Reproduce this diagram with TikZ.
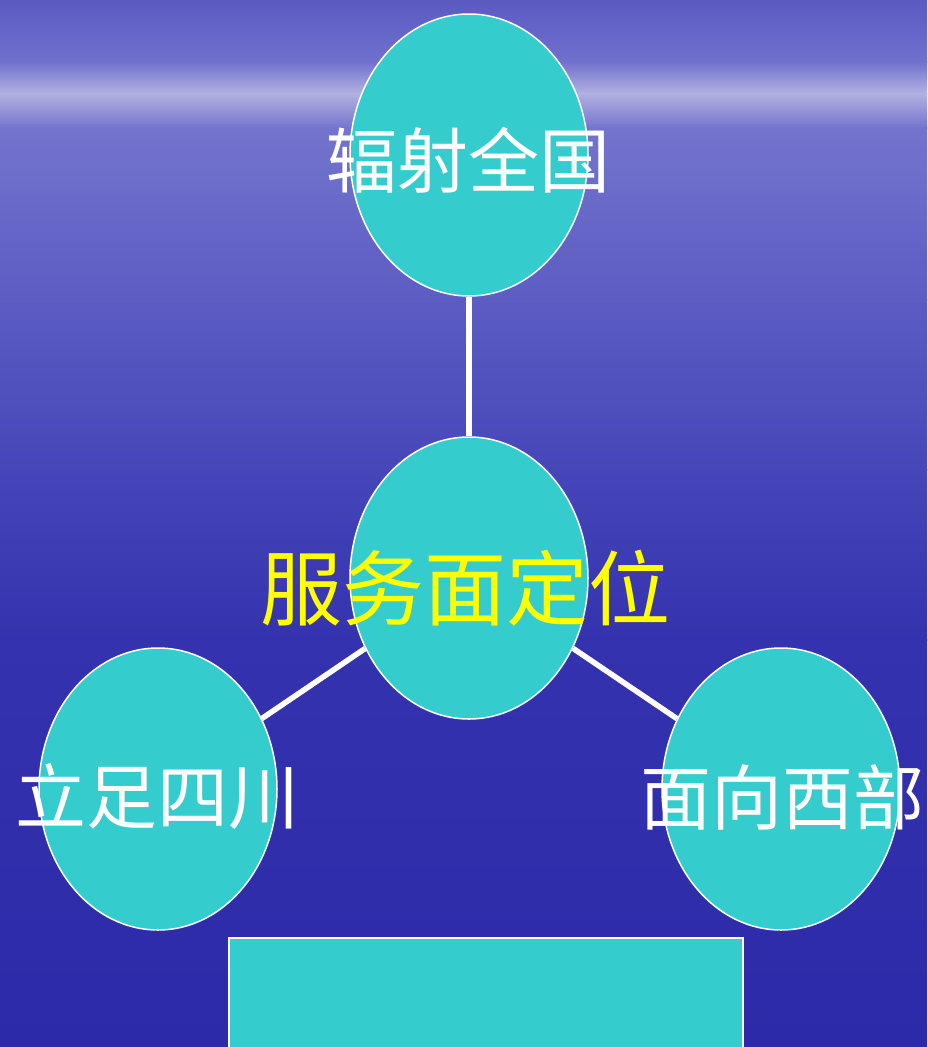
\documentclass[tikz,border=0pt]{standalone}
\usepackage{fontspec}
\newfontfamily\cjk{Noto Sans CJK SC}
\usetikzlibrary{shapes.geometric}
\definecolor{bgA}{RGB}{90,90,194}
\definecolor{bgB}{RGB}{112,112,205}
\definecolor{bgC}{RGB}{178,178,226}
\definecolor{bgD}{RGB}{116,116,206}
\definecolor{bgE}{RGB}{92,92,195}
\definecolor{bgF}{RGB}{70,70,185}
\definecolor{bgG}{RGB}{52,50,174}
\definecolor{bgH}{RGB}{44,42,168}
\definecolor{cyanfill}{RGB}{52,204,204}
\definecolor{ylw}{RGB}{255,255,0}
\tikzset{
  bubble/.style={ellipse, draw=white, line width=1.5pt, fill=cyanfill,
    minimum width=238pt, minimum height=282pt, inner sep=0pt},
  whitetext/.style={text=white, font=\cjk\fontsize{71}{71}\selectfont, inner sep=0pt},
  centertext/.style={text=ylw, font=\cjk\fontsize{82}{82}\selectfont, inner sep=0pt},
  link/.style={draw=white, line width=5.5pt}
}
\begin{document}
\begin{tikzpicture}[x=1pt,y=-1pt]
\useasboundingbox (0,0) rectangle (927,1047);
\clip (0,0) rectangle (927,1047);
% background
\shade[top color=bgA, bottom color=bgB] (0,-1) rectangle (927,62);
\shade[top color=bgB, bottom color=bgC] (0,61) rectangle (927,94);
\shade[top color=bgC, bottom color=bgD] (0,93) rectangle (927,128);
\shade[top color=bgD, bottom color=bgE] (0,127) rectangle (927,300);
\shade[top color=bgE, bottom color=bgF] (0,299) rectangle (927,470);
\shade[top color=bgF, bottom color=bgG] (0,469) rectangle (927,640);
\shade[top color=bgG, bottom color=bgH] (0,639) rectangle (927,1048);
% ellipses
\node[bubble] (top) at (469,155) {};
\node[bubble] (mid) at (469,578) {};
\node[bubble] (left) at (158,789) {};
\node[bubble] (right) at (781,789) {};
% connectors
\draw[link] (top) -- (mid);
\draw[link] (mid) -- (left);
\draw[link] (mid) -- (right);
% bottom box
\node[draw=white, line width=1.5pt, fill=cyanfill, minimum width=514pt, minimum height=130pt, inner sep=0pt, anchor=north west] (box) at (228,937) {};
% texts
\node[whitetext] (ttop) at (468,160) {辐射全国};
\node[centertext] (tmid) at (465,588) {服务面定位};
\node[whitetext] (tleft) at (158,797) {立足四川};
\node[whitetext] (tright) at (782,797) {面向西部};
\end{tikzpicture}
\end{document}
